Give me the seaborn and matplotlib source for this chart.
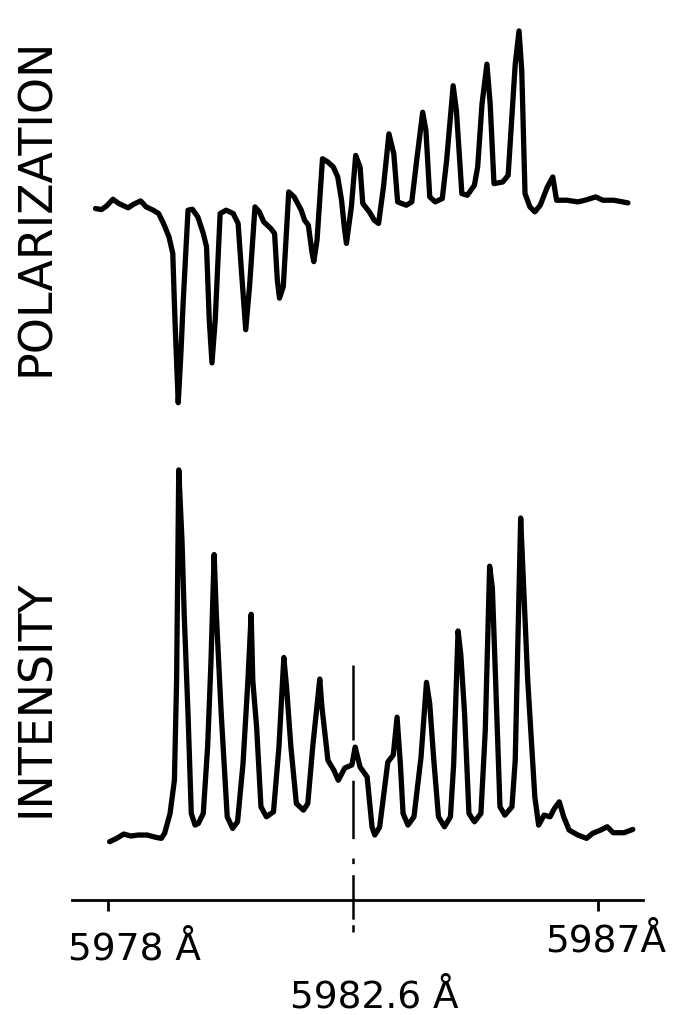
import numpy as np
import pandas as pd
import matplotlib

matplotlib.use("Agg")
import matplotlib.pyplot as plt
import seaborn as sns

# traced spectrum, wavelength in Angstrom, signal in arbitrary units
pol_wavelength = [
    5977.77, 5977.88, 5977.97, 5978.09, 5978.20, 5978.37, 5978.47, 5978.60, 5978.70, 5978.83,
    5978.93, 5979.02, 5979.12, 5979.19, 5979.23, 5979.29, 5979.34, 5979.38, 5979.47, 5979.55,
    5979.65, 5979.75, 5979.81, 5979.86, 5979.91, 5979.97, 5980.06, 5980.17, 5980.30, 5980.39,
    5980.45, 5980.53, 5980.60, 5980.70, 5980.78, 5980.86, 5980.99, 5981.06, 5981.11, 5981.15,
    5981.22, 5981.32, 5981.42, 5981.55, 5981.61, 5981.68, 5981.75, 5981.78, 5981.84, 5981.94,
    5982.04, 5982.14, 5982.22, 5982.29, 5982.34, 5982.38, 5982.47, 5982.55, 5982.63, 5982.68,
    5982.80, 5982.89, 5982.97, 5983.06, 5983.16, 5983.25, 5983.32, 5983.48, 5983.58, 5983.67,
    5983.78, 5983.84, 5983.91, 5984.01, 5984.14, 5984.22, 5984.34, 5984.40, 5984.50, 5984.60,
    5984.73, 5984.79, 5984.87, 5984.96, 5985.02, 5985.09, 5985.25, 5985.35, 5985.48, 5985.55,
    5985.60, 5985.66, 5985.75, 5985.84, 5985.94, 5986.07, 5986.17, 5986.24, 5986.43, 5986.63,
    5986.76, 5986.96, 5987.09, 5987.29, 5987.55,
]
pol_signal = [
    -0.05, -0.08, 0.02, 0.23, 0.10, -0.03, 0.08, 0.18, 0.00, -0.10,
    -0.20, -0.50, -0.90, -1.40, -3.40, -5.90, -4.40, -2.90, -0.10, -0.07,
    -0.30, -0.80, -1.20, -3.40, -4.70, -3.40, -0.20, -0.10, -0.20, -0.50,
    -1.90, -3.70, -2.40, 0.00, -0.15, -0.45, -0.65, -0.80, -2.20, -2.75,
    -2.40, 0.45, 0.30, -0.10, -0.40, -0.55, -1.40, -1.65, -1.00, 1.45,
    1.35, 1.20, 0.90, 0.20, -0.60, -1.10, 0.00, 1.55, 1.20, 0.10,
    -0.15, -0.40, -0.50, 0.60, 2.20, 1.60, 0.15, 0.05, 0.15, 1.40,
    2.85, 2.30, 0.30, 0.15, 0.25, 1.40, 3.65, 2.90, 0.40, 0.35,
    0.65, 1.20, 3.10, 4.30, 3.10, 0.70, 0.75, 0.95, 4.30, 5.30,
    4.10, 0.40, 0.00, -0.15, 0.05, 0.60, 0.90, 0.20, 0.20, 0.15,
    0.20, 0.30, 0.20, 0.20, 0.12,
]

int_wavelength = [
    5978.03, 5978.16, 5978.29, 5978.42, 5978.55, 5978.72, 5978.88, 5978.98, 5979.04, 5979.14,
    5979.22, 5979.26, 5979.30, 5979.36, 5979.40, 5979.47, 5979.53, 5979.60, 5979.66, 5979.75,
    5979.83, 5979.89, 5979.95, 5979.99, 5980.08, 5980.19, 5980.29, 5980.38, 5980.48, 5980.57,
    5980.63, 5980.66, 5980.73, 5980.81, 5980.91, 5981.04, 5981.14, 5981.23, 5981.28, 5981.36,
    5981.46, 5981.59, 5981.67, 5981.76, 5981.89, 5981.93, 5982.04, 5982.15, 5982.23, 5982.35,
    5982.48, 5982.54, 5982.63, 5982.76, 5982.85, 5982.90, 5982.99, 5983.14, 5983.24, 5983.31,
    5983.37, 5983.42, 5983.51, 5983.62, 5983.75, 5983.85, 5983.91, 5983.98, 5984.07, 5984.18,
    5984.29, 5984.35, 5984.43, 5984.48, 5984.55, 5984.63, 5984.73, 5984.85, 5984.93, 5985.01,
    5985.06, 5985.12, 5985.20, 5985.29, 5985.42, 5985.48, 5985.58, 5985.63, 5985.71, 5985.84,
    5985.91, 5986.01, 5986.12, 5986.20, 5986.29, 5986.37, 5986.47, 5986.63, 5986.79, 5986.90,
    5987.05, 5987.17, 5987.28, 5987.48, 5987.64,
]
int_signal = [
    -0.05, 0.05, 0.18, 0.12, 0.15, 0.15, 0.08, 0.05, 0.20, 0.80,
    1.80, 4.80, 11.15, 9.00, 6.80, 3.80, 0.80, 0.45, 0.50, 0.80,
    2.80, 5.30, 8.60, 6.80, 3.80, 0.70, 0.35, 0.55, 2.30, 4.80,
    6.80, 4.80, 3.40, 1.00, 0.70, 0.85, 2.80, 5.50, 4.60, 2.80,
    1.10, 0.90, 1.10, 2.80, 4.85, 4.00, 2.40, 2.10, 1.80, 2.17,
    2.26, 2.80, 2.20, 1.90, 0.39, 0.15, 0.39, 2.35, 2.56, 3.70,
    2.30, 0.80, 0.45, 0.70, 2.50, 4.75, 4.10, 2.50, 0.70, 0.40,
    0.70, 2.30, 6.30, 5.60, 3.80, 0.80, 0.55, 0.80, 3.30, 8.25,
    7.60, 4.80, 1.00, 0.75, 1.00, 2.40, 9.70, 7.80, 4.80, 1.30,
    0.45, 0.75, 0.70, 0.95, 1.15, 0.70, 0.30, 0.15, 0.05, 0.20,
    0.30, 0.40, 0.22, 0.22, 0.32,
]

tick_wavelengths = [5978, 5987]
tick_labels = ["5978 Å", "5987Å"]
marker_wavelength = 5982.5
marker_label = "5982.6 Å"

sns.set_theme(style="white")
plt.rcParams["font.family"] = ["DejaVu Sans"]
plt.rcParams["text.color"] = "black"
plt.rcParams["lines.scale_dashes"] = False

pol_df = pd.DataFrame({"wavelength": pol_wavelength, "signal": pol_signal})
int_df = pd.DataFrame({"wavelength": int_wavelength, "signal": int_signal})

W, H = 680, 1015
fig = plt.figure(figsize=(W / 100, H / 100), dpi=100)
fig.patch.set_facecolor("white")

xlim = (5977.339, 5987.827)
left, width = 72 / W, 571 / W
ax_pol = fig.add_axes([left, 1 - 420 / H, width, 405 / H])
ax_int = fig.add_axes([left, 1 - 900 / H, width, 450 / H])

line_kw = dict(color="black", linewidth=3.8, solid_joinstyle="round", solid_capstyle="round")
sns.lineplot(data=pol_df, x="wavelength", y="signal", ax=ax_pol, sort=False, **line_kw)
sns.lineplot(data=int_df, x="wavelength", y="signal", ax=ax_int, sort=False, **line_kw)

ax_pol.set_xlim(xlim)
ax_pol.set_ylim(-6.42, 5.78)
ax_int.set_xlim(xlim)
ax_int.set_ylim(-1.807, 11.75)

for ax in (ax_pol, ax_int):
    ax.set_facecolor("none")
    ax.set_xlabel("")
    ax.set_ylabel("")
    ax.set_yticks([])
    for s in ("top", "right", "left"):
        ax.spines[s].set_visible(False)

ax_pol.spines["bottom"].set_visible(False)
ax_pol.set_xticks([])

ax_int.spines["bottom"].set_linewidth(2.0)
ax_int.spines["bottom"].set_color("black")
ax_int.set_xticks(tick_wavelengths)
ax_int.set_xticklabels([])
ax_int.tick_params(axis="x", direction="out", length=8, width=2.0, color="black", bottom=True)

# central dashed reference line, crossing the wavelength axis
ax_int.plot(
    [marker_wavelength, marker_wavelength],
    [5.27, -2.77],
    color="black",
    linewidth=1.8,
    dashes=(54, 29, 42, 14, 4, 8, 32, 4, 7),
    dash_capstyle="butt",
    clip_on=False,
)

fs = 27
txt_kw = dict(fontsize=fs, color="black", ha="left", va="baseline")
fig.text(68 / W, 1 - 960 / H, tick_labels[0], **txt_kw)
fig.text(545 / W, 1 - 952 / H, tick_labels[1], **txt_kw)
fig.text(290 / W, 1 - 1007 / H, marker_label, **txt_kw)

lab_kw = dict(fontsize=33, color="black", rotation=90, ha="center", va="center")
fig.text(37 / W, 1 - 207 / H, "POLARIZATION", **lab_kw)
fig.text(37 / W, 1 - 698 / H, "INTENSITY", **lab_kw)

fig.savefig("out.png", dpi=100, facecolor="white")
plt.close(fig)
